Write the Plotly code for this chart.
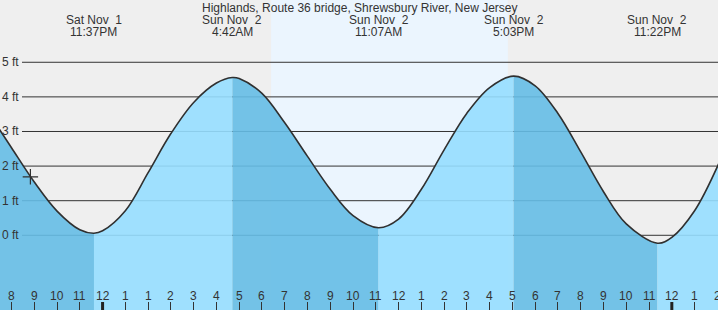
import plotly.graph_objects as go

# Time axis: hours elapsed since Sat Nov 1, 8 PM (Nov 2 repeats the 1 AM hour)
X_MIN, X_MAX = -0.505, 31.028
Y_MIN, Y_MAX = -2.159, 6.800

title = "Highlands, Route 36 bridge, Shrewsbury River, New Jersey"

# Tide curve (hours, feet)
curve_hours = [-0.55, 0, 1, 2, 3, 3.62, 4, 5, 6, 7, 8, 9, 9.70,
               10, 11, 12, 13, 14, 15, 16.12, 17, 18, 19, 20, 21, 22.05,
               23, 24, 25, 26, 27, 28.37, 29, 30, 31.1]
curve_ft = [3.08, 2.53, 1.54, 0.70, 0.16, 0.06, 0.13, 0.71, 1.81, 2.94, 3.84, 4.40, 4.56,
            4.53, 4.10, 3.25, 2.28, 1.33, 0.57, 0.22, 0.47, 1.33, 2.47, 3.53, 4.27, 4.60,
            4.32, 3.52, 2.41, 1.26, 0.33, -0.23, -0.06, 0.71, 2.13]

# High / low events
event_hours = [3.62, 9.70, 16.12, 22.05, 28.37]
event_days = ["Sat Nov\u00a0 1", "Sun Nov\u00a0 2", "Sun Nov\u00a0 2", "Sun Nov\u00a0 2", "Sun Nov\u00a0 2"]
event_times = ["11:37PM", "4:42AM", "11:07AM", "5:03PM", "11:22PM"]

# Daylight (sunrise, sunset)
daylight = [11.40, 21.80]

# Current time marker
now_hour = [0.83]
now_ft = [1.69]

# Axis ticks
tick_hours = list(range(32))
tick_labels = ["8", "9", "10", "11", "12", "1", "1", "2", "3", "4", "5", "6", "7", "8", "9", "10",
               "11", "12", "1", "2", "3", "4", "5", "6", "7", "8", "9", "10", "11", "12", "1", "2"]
midnight_hours = [4, 29]
grid_ft = [0, 1, 2, 3, 4, 5]
grid_labels = ["0 ft", "1 ft", "2 ft", "3 ft", "4 ft", "5 ft"]

LIGHT = "rgba(150,222,255,0.9)"
DARK = "rgba(101,188,229,0.9)"
TXT = "#333333"
FONT = "Liberation Sans, Arial, sans-serif"

fig = go.Figure()
layout = dict(
    width=718, height=310, margin=dict(l=0, r=0, t=0, b=0),
    paper_bgcolor="#efefef", plot_bgcolor="rgba(0,0,0,0)",
    showlegend=False, font=dict(family=FONT, size=12, color=TXT),
    xaxis=dict(domain=[0, 1], range=[X_MIN, X_MAX], visible=False, anchor="y"),
    yaxis=dict(domain=[0, 1], range=[Y_MIN, Y_MAX], visible=False, anchor="x"),
)

# invisible trace so the main subplot exists (holds background shapes)
fig.add_trace(go.Scatter(x=[X_MIN], y=[Y_MIN - 5], mode="markers", marker=dict(opacity=0),
                         xaxis="x", yaxis="y", hoverinfo="skip"))

# one clipped subplot per rising / falling stretch, so each gets its own fill colour
bounds = [X_MIN] + event_hours + [X_MAX]
span = X_MAX - X_MIN
for i in range(len(bounds) - 1):
    a, b = bounds[i], bounds[i + 1]
    ax = i + 2
    layout[f"xaxis{ax}"] = dict(domain=[(a - X_MIN) / span, (b - X_MIN) / span],
                                range=[a, b], visible=False, anchor="y")
    color = DARK if i % 2 == 0 else LIGHT
    fig.add_trace(go.Scatter(x=[curve_hours[0] - 1, curve_hours[-1] + 1], y=[Y_MIN - 1, Y_MIN - 1],
                             mode="lines", line=dict(width=0), xaxis=f"x{ax}", yaxis="y",
                             hoverinfo="skip"))
    fig.add_trace(go.Scatter(x=curve_hours, y=curve_ft, mode="lines",
                             line=dict(width=0, shape="spline", smoothing=1),
                             fill="tonexty", fillcolor=color, xaxis=f"x{ax}", yaxis="y",
                             hoverinfo="skip"))

top = len(bounds) + 1
layout[f"xaxis{top}"] = dict(domain=[0, 1], range=[X_MIN, X_MAX], anchor="y",
                             showgrid=False, zeroline=False, showline=False,
                             ticks="inside", ticklen=8, tickwidth=1, tickcolor=TXT,
                             tickvals=tick_hours, showticklabels=False)
fig.add_trace(go.Scatter(x=curve_hours, y=curve_ft, mode="lines",
                         line=dict(color="#303030", width=1.6, shape="spline", smoothing=1),
                         xaxis=f"x{top}", yaxis="y", hoverinfo="skip"))
fig.add_trace(go.Scatter(x=now_hour, y=now_ft, mode="markers",
                         marker=dict(symbol="cross-thin", size=11, line=dict(color="#303030", width=1.2)),
                         xaxis=f"x{top}", yaxis="y", hoverinfo="skip"))

shapes = [dict(type="rect", xref="x", yref="paper", x0=daylight[0], x1=daylight[1], y0=0, y1=1,
               fillcolor="#ebf5fe", line=dict(width=0), layer="below")]
for g in grid_ft:
    shapes.append(dict(type="line", xref="paper", yref="y", x0=22 / 718, x1=1, y0=g, y1=g,
                       line=dict(color="#333333", width=1), layer="below"))
for m in midnight_hours:
    shapes.append(dict(type="line", xref=f"x{top}", yref="paper", x0=m, x1=m, y0=0, y1=8 / 310,
                       line=dict(color="#222222", width=3), layer="above"))
layout["shapes"] = shapes

ann = [dict(text=title, x=0.5, y=1 - 8 / 310, xref="paper", yref="paper",
            xanchor="center", yanchor="middle", showarrow=False, borderpad=0)]
for h, d, t in zip(event_hours, event_days, event_times):
    ann.append(dict(text=d, x=h, y=1 - 20 / 310, xref=f"x{top}", yref="paper",
                    xanchor="center", yanchor="middle", showarrow=False, borderpad=0))
    ann.append(dict(text=t, x=h, y=1 - 32 / 310, xref=f"x{top}", yref="paper",
                    xanchor="center", yanchor="middle", showarrow=False, borderpad=0))
for h, lab in zip(tick_hours, tick_labels):
    ann.append(dict(text=lab, x=h, y=14 / 310, xref=f"x{top}", yref="paper",
                    xanchor="center", yanchor="middle", showarrow=False))
for g, lab in zip(grid_ft, grid_labels):
    ann.append(dict(text=lab, x=0, y=g, xref="paper", yref="y",
                    xanchor="left", yanchor="middle", showarrow=False))
layout["annotations"] = ann

fig.update_layout(**layout)
fig.write_html("out.html")
